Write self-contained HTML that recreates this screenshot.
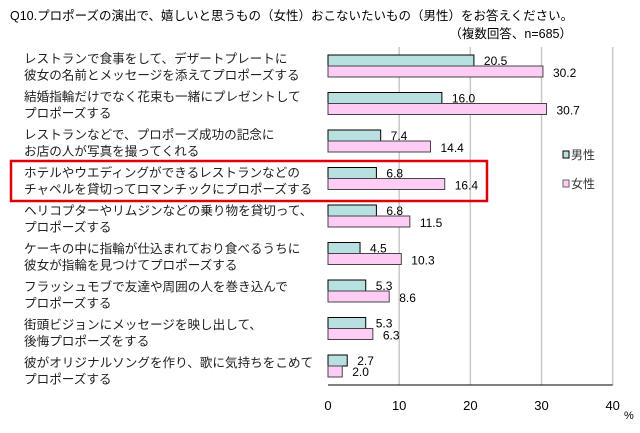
<!DOCTYPE html>
<html><head><meta charset="utf-8"><style>
body{margin:0;background:#fff;}
svg text{font-family:"Liberation Sans","Noto Sans CJK JP",sans-serif;}
</style></head><body>
<svg id="chart" width="640" height="428" xmlns="http://www.w3.org/2000/svg">
<text x="10" y="20" font-size="12.5" fill="#000">Q10.プロポーズの演出で、嬉しいと思うもの（女性）おこないたいもの（男性）をお答えください。</text>
<text x="572" y="38" font-size="12.5" text-anchor="end" fill="#000">（複数回答、n=685）</text>
<g id="grid"></g>
<g id="bars"></g>
<g id="labels"></g>
<rect x="11" y="161" width="476" height="40" fill="none" stroke="#e00000" stroke-width="2.5"/>
<g>
<rect x="563" y="151" width="6" height="7" fill="#b8e0e0" stroke="#000" stroke-width="1"/>
<text x="571" y="159" font-size="12" fill="#333">男性</text>
<rect x="563" y="180" width="6" height="7" fill="#ffccf5" stroke="#666" stroke-width="1"/>
<text x="571" y="188" font-size="12" fill="#333">女性</text>
</g>
<text x="624" y="419" font-size="11" fill="#000">%</text>
</svg>
<script>
const categories=[
["レストランで食事をして、デザートプレートに","彼女の名前とメッセージを添えてプロポーズする"],
["結婚指輪だけでなく花束も一緒にプレゼントして","プロポーズする"],
["レストランなどで、プロポーズ成功の記念に","お店の人が写真を撮ってくれる"],
["ホテルやウエディングができるレストランなどの","チャペルを貸切ってロマンチックにプロポーズする"],
["ヘリコプターやリムジンなどの乗り物を貸切って、","プロポーズする"],
["ケーキの中に指輪が仕込まれており食べるうちに","彼女が指輪を見つけてプロポーズする"],
["フラッシュモブで友達や周囲の人を巻き込んで","プロポーズする"],
["街頭ビジョンにメッセージを映し出して、","後悔プロポーズをする"],
["彼がオリジナルソングを作り、歌に気持ちをこめて","プロポーズする"]];
const maleValues=[20.5,16.0,7.4,6.8,6.8,4.5,5.3,5.3,2.7];
const femaleValues=[30.2,30.7,14.4,16.4,11.5,10.3,8.6,6.3,2.0];
const tickValues=[0,10,20,30,40];
const NS="http://www.w3.org/2000/svg";
const X0=328,X1=612.7,MAX=40,TOP=47,BOT=385,C0=66,PITCH=37.5,BH=11;
const xs=v=>X0+(X1-X0)*v/MAX;
const ys=i=>C0+i*PITCH;
function mk(tag,attrs,parent){const e=document.createElementNS(NS,tag);for(const k in attrs)e.setAttribute(k,attrs[k]);parent.appendChild(e);return e;}
const grid=document.getElementById('grid'),bars=document.getElementById('bars'),labels=document.getElementById('labels');
tickValues.forEach(t=>{
 if(t>0){const l=mk('line',{x1:xs(t),x2:xs(t),y1:TOP,y2:BOT,stroke:'#c8c8c8','stroke-width':1.5},grid);
 
 }
 const tx=mk('text',{x:xs(t),y:410,'font-size':13,'text-anchor':'middle',fill:'#000'},grid);
 tx.textContent=t;
 
 
});
const ax=mk('line',{x1:X0,x2:X1,y1:BOT,y2:BOT,stroke:'#000','stroke-width':1},grid);


categories.forEach((c,i)=>{
 const y=ys(i);
 const m=mk('rect',{x:X0,y:y-BH,width:xs(maleValues[i])-X0,height:BH,fill:'#b8e0e0',stroke:'#000','stroke-width':1},bars);
 
 
 const f=mk('rect',{x:X0,y:y,width:xs(femaleValues[i])-X0,height:BH,fill:'#ffccf5',stroke:'#444','stroke-width':1},bars);
 
 
 const ml=mk('text',{x:xs(maleValues[i])+10,y:y-1,'font-size':12,fill:'#000'},bars);
 ml.textContent=maleValues[i].toFixed(1);
 
 
 const fl=mk('text',{x:xs(femaleValues[i])+10,y:y+BH+(i==8?-1:0),'font-size':12,fill:'#000'},bars);
 fl.textContent=femaleValues[i].toFixed(1);
 
 
 const t=mk('text',{x:24,y:63+i*38,'font-size':12.6,fill:'#222'},labels);
 
 
 const s1=mk('tspan',{x:24},t);s1.textContent=c[0];
 const s2=mk('tspan',{x:24,dy:16.5},t);s2.textContent=c[1];
});
</script>
</body></html>
